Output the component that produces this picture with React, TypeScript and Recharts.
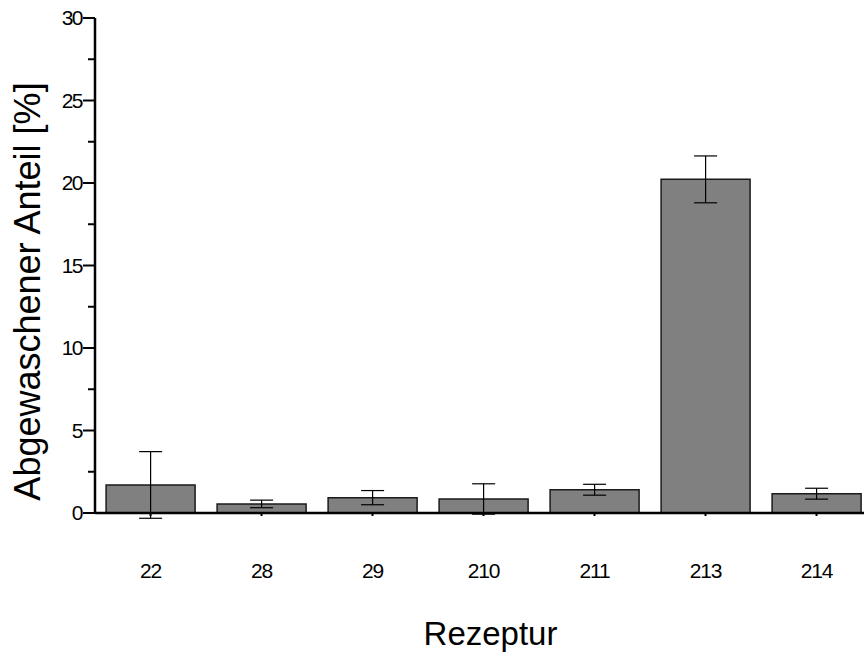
import React from 'react';
import { BarChart, Bar, XAxis, YAxis, ErrorBar, Label } from 'recharts';

const categories = ['22', '28', '29', '210', '211', '213', '214'];
const values = [1.7, 0.55, 0.93, 0.85, 1.41, 20.22, 1.17];
const errors = [2.02, 0.23, 0.43, 0.92, 0.33, 1.42, 0.33];
const yTicks = [0, 2.5, 5, 7.5, 10, 12.5, 15, 17.5, 20, 22.5, 25, 27.5, 30];
const yLabels = [0, 5, 10, 15, 20, 25, 30];

const data = categories.map((c, i) => ({ name: c, value: values[i], err: errors[i] }));

const FONT = '"Liberation Sans", Arial, Helvetica, sans-serif';

const YTick = (props: any) => {
  const { x, y, payload } = props;
  const major = yLabels.includes(payload.value);
  return (
    <g>
      <line x1={x - (major ? 12 : 7)} x2={x} y1={y} y2={y} stroke="#000" strokeWidth={2} />
      {major && (
        <text x={x - 13} y={y} dy="0.35em" textAnchor="end" fontSize={21} letterSpacing={-1.5} fontFamily={FONT} fill="#000">
          {payload.value}
        </text>
      )}
    </g>
  );
};

const XTick = (props: any) => {
  const { x, y, payload } = props;
  return (
    <g>
      <line x1={x} x2={x} y1={y} y2={y + 3} stroke="#000" strokeWidth={2} />
      <text x={x} y={y + 65} textAnchor="middle" fontSize={21} letterSpacing={-1.2} fontFamily={FONT} fill="#000">
        {payload.value}
      </text>
    </g>
  );
};

const YLabel = (props: any) => {
  const vb = props.viewBox;
  const cx = vb.x + 40;
  const cy = vb.y + vb.height / 2 + 26;
  return (
    <text x={cx} y={cy} transform={`rotate(-90, ${cx}, ${cy})`} textAnchor="middle" fontSize={36} fontFamily={FONT} fill="#000">
      Abgewaschener Anteil [%]
    </text>
  );
};

const XLabel = (props: any) => {
  const vb = props.viewBox;
  const cx = vb.x + vb.width / 2 + 7;
  const cy = vb.y + 132;
  return (
    <text x={cx} y={cy} textAnchor="middle" fontSize={33} fontFamily={FONT} fill="#000">
      Rezeptur
    </text>
  );
};

export default function App() {
  return (
    <div style={{ position: 'absolute', left: 0, top: 0, width: 864, height: 653, overflow: 'hidden', background: '#fff' }}>
      <BarChart
        width={880}
        height={653}
        data={data}
        margin={{ top: 18, right: 8, bottom: 0, left: 0 }}
        barCategoryGap="10%"
      >
        <XAxis
          dataKey="name"
          height={140}
          tickSize={0}
          tickMargin={0}
          tick={<XTick />}
          axisLine={{ stroke: '#000', strokeWidth: 2.5 }}
          tickLine={false}
          interval={0}
        >
          <Label content={<XLabel />} />
        </XAxis>
        <YAxis
          width={95}
          domain={[0, 30]}
          ticks={yTicks}
          allowDataOverflow={true}
          tickSize={0}
          tickMargin={0}
          tick={<YTick />}
          tickLine={false}
          axisLine={{ stroke: '#000', strokeWidth: 2.5 }}
          interval={0}
        >
          <Label content={<YLabel />} />
        </YAxis>
        <Bar dataKey="value" fill="#808080" stroke="#1a1a1a" strokeWidth={1.5} isAnimationActive={false}>
          <ErrorBar dataKey="err" width={11.5} stroke="#000" strokeWidth={1.2} direction="y" />
        </Bar>
      </BarChart>
    </div>
  );
}
